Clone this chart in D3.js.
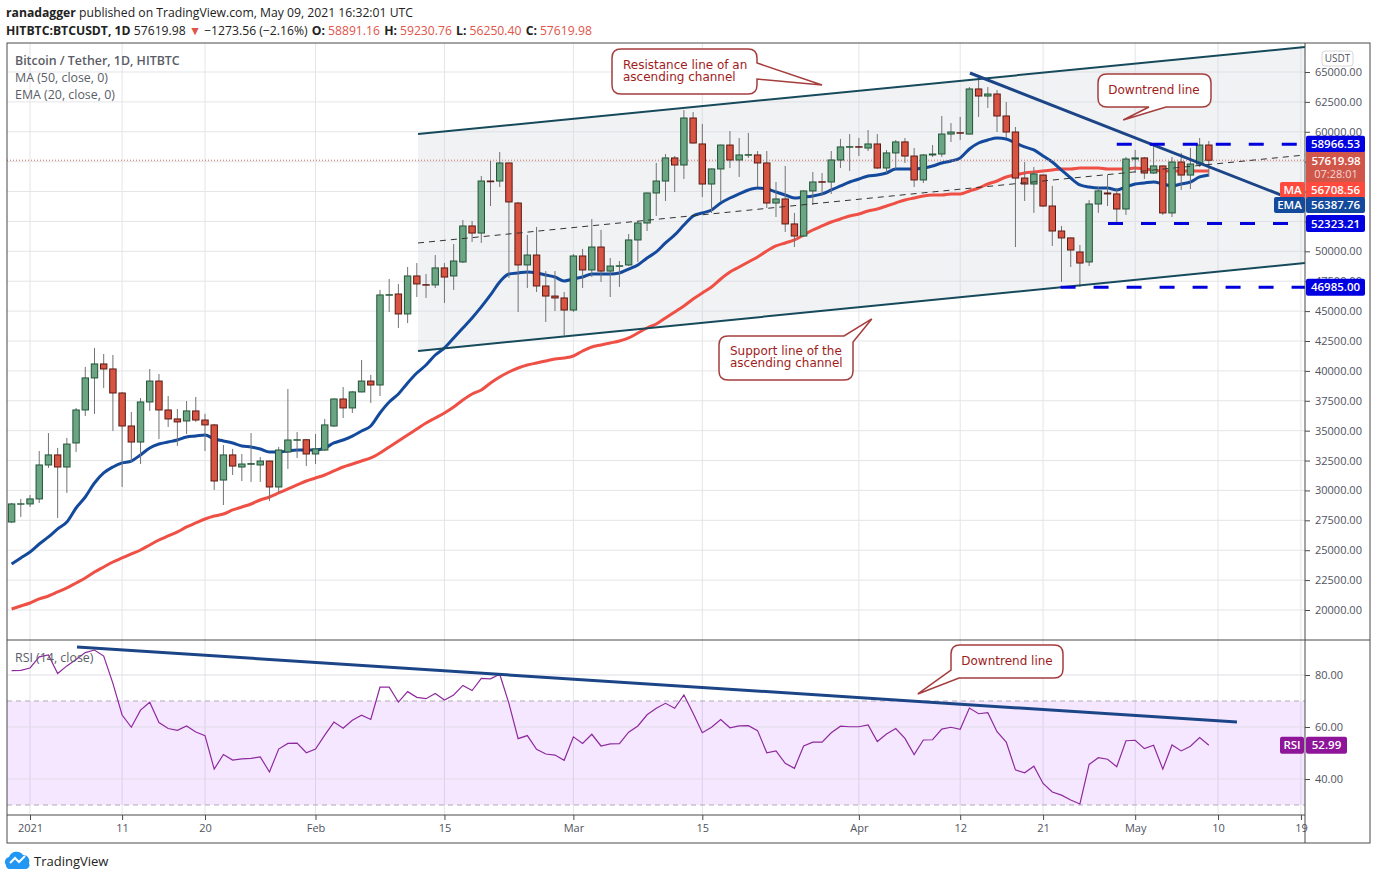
<!DOCTYPE html>
<html>
<head>
<meta charset="utf-8">
<script src="https://cdn.jsdelivr.net/npm/d3@7"></script>
<style>
  html, body { margin: 0; padding: 0; background: #fff; }
  svg { display: block; font-family: "Open Sans", sans-serif; }
</style>
</head>
<body>
<svg id="chart" width="1376" height="880"></svg>
<script>
// daily candles, first one is 30 Dec 2020, last one is 9 May 2021
const opens = [
  27360,28850,28870,29290,32130,32970,31960,33970,36730,39410,
  40580,40160,38150,35390,34050,37400,39150,36730,35980,35810,
  36650,35890,35480,30870,32970,31960,32190,32130,32460,30290,
  33220,34200,34240,33050,33380,35390,37650,36900,38240,39150,
  38820,46330,46430,44760,47940,47210,47190,48610,47940,49110,
  52120,51530,55880,55880,57390,54040,48860,49690,47100,46260,
  46100,45090,49610,48440,50360,48350,48750,48860,50950,52370,
  54880,55880,57810,57220,61150,58980,55630,56890,58890,57640,
  58040,58060,57390,54040,54380,52290,51280,55050,55820,55800,
  57640,58710,58750,58640,58980,56970,58230,59150,57970,55970,
  58060,58140,59810,59920,59810,63580,62990,63160,61320,59980,
  56130,55630,56380,53790,51700,51120,49945,49110,53960,54880,
  54800,53540,57720,57810,56550,57140,53210,57470,56380,57300,58891.16];
const highs = [
  28950,29290,29620,33300,34800,33550,34390,36900,40330,41920,
  41410,41330,38240,36560,37730,40160,39740,37900,36810,37480,
  37820,36400,35560,33800,33470,33050,34800,32800,32480,33640,
  38480,34890,34300,34720,35980,37700,38650,38320,40910,39660,
  46770,47690,47270,48690,49020,48100,49690,49020,50610,52620,
  52540,56300,57560,58310,57420,54130,51370,52040,48350,48350,
  46600,49780,50200,52700,51790,49440,49190,51450,52540,54900,
  57390,58140,57970,61820,61650,60650,56920,58920,60060,59480,
  59900,58390,58390,55800,57140,53210,55100,56640,56550,58390,
  59400,59810,59480,60150,59810,58480,59310,59480,58640,58140,
  58890,61320,60730,61240,63740,64750,63740,63490,62490,60400,
  57470,57050,56430,55470,52120,51150,50530,54290,55380,56380,
  55300,57890,58480,57890,59060,57190,57890,58230,58640,59480,59230.76];
const lows = [
  27280,27780,28620,28950,31880,27700,29790,33220,36230,36400,
  38570,34970,30290,32380,32210,36650,34300,35310,33720,34720,
  35730,33300,30040,28780,31290,30790,30710,30710,29120,29790,
  31800,32710,32040,32210,33300,35310,36060,36480,38200,37320,
  37900,44930,43590,44000,46180,46100,46930,45680,46770,49020,
  50780,50700,53790,55380,47770,44930,46930,46600,44090,45010,
  42960,44930,46930,47850,47440,46180,47020,48770,49110,51700,
  52960,54210,54960,56050,59020,54540,53210,54130,56970,56220,
  57810,55380,53620,52870,51620,50360,51200,53880,54630,54800,
  56970,56720,57970,58390,56890,56550,56890,57390,55380,55720,
  57890,57890,59150,59310,59770,61240,61990,59980,59480,50360,
  54210,53210,53710,50450,47440,48690,47020,48770,53210,53790,
  52290,53040,56550,56050,56470,53040,52870,55130,55210,57050,56250.40];
const closes = [
  28870,28880,29290,32130,32970,31960,33880,36730,39410,40580,
  40160,38150,35390,34050,37400,39150,36730,35980,35730,36650,
  35890,35480,30790,32970,32040,32210,32240,32460,30290,33380,
  34220,34240,33050,33470,35480,37650,36900,38240,39150,38820,
  46350,46370,44760,47940,47270,47170,48610,47850,49190,52120,
  51530,55880,55820,57390,54130,48860,49690,47100,46260,46100,
  45090,49610,48440,50360,48350,48770,48790,50950,52370,54880,
  55880,57810,57220,61150,59060,55630,56890,58890,57640,58060,
  58080,57390,54040,54380,52290,51280,55050,55800,55780,57640,
  58730,58750,58710,58980,56970,58230,59150,57970,55970,58060,
  58140,59810,59980,59880,63580,62990,63160,61320,59980,56130,
  55630,56470,53790,51700,51120,50110,49020,53960,55050,54800,
  53540,57720,57810,56550,57140,53210,57470,56380,57300,58890,57619.98];
const ema20 = [
  23850,24350,24850,25520,26110,26780,27360,28530,29450,30620,
  31460,31960,32300,32460,32970,33550,33880,34050,34220,34470,
  34550,34640,34300,34140,33970,33720,33640,33470,33220,33220,
  33300,33380,33380,33380,33550,33970,34220,34550,34970,35390,
  36480,37400,38070,38990,39820,40490,41330,41920,42750,43590,
  44430,45350,46350,47440,48100,48190,48270,48190,48020,47850,
  47520,47690,47850,48100,48100,48100,48190,48520,48860,49440,
  49950,50700,51370,52200,52960,53210,53460,54040,54460,54800,
  55130,55300,55210,54960,54710,54460,54540,54630,54800,55130,
  55470,55800,56050,56300,56380,56550,56890,56890,56890,56970,
  57140,57390,57560,57810,58560,59060,59310,59480,59400,59060,
  58730,58480,57970,57470,56800,56130,55550,55380,55300,55300,
  55130,55380,55630,55720,55800,55630,55470,55630,55800,56220,56387.76];
const ma50 = [
  20085,20337,20587,20922,21172,21508,21842,22260,22678,23180,
  23598,24016,24351,24687,25020,25438,25856,26191,26526,26944,
  27278,27612,27862,28030,28366,28616,28867,29202,29453,29787,
  30122,30457,30791,31042,31293,31628,31962,32213,32464,32715,
  33133,33635,34137,34639,35141,35642,36060,36479,36981,37566,
  38070,38402,38988,39490,39908,40243,40493,40661,40828,40995,
  41079,41246,41664,42000,42166,42333,42500,42752,43170,43588,
  43922,44425,44927,45430,46013,46515,47017,47687,48272,48690,
  49110,49527,50030,50447,50700,50950,51367,51785,52120,52454,
  52705,52956,53123,53374,53541,53792,54043,54294,54461,54628,
  54712,54712,54796,54796,55047,55298,55632,55883,56218,56385,
  56552,56636,56720,56803,56887,56887,56970,56970,56970,56887,
  56887,56887,56970,56887,56803,56720,56720,56720,56720,56720,56708.56];
const rsi = [
  81.7,81.8,82.7,87,87.7,80.6,83.5,86,88.6,89.6,
  87.3,76.8,64.6,59.9,66.5,69.5,61.7,59.4,58.7,60.4,
  58.1,56.7,43.8,49.4,47.3,47.7,47.9,48.5,42.7,51.5,
  53.7,53.8,50.1,51.5,56.9,61.9,59.5,62.6,64.5,62.9,
  75.3,75.3,69.6,73.6,71.4,70.9,72.9,70.4,72.3,76,
  74,78.7,78.5,80.3,69.1,55.5,56.7,51.4,49.6,49.2,
  47.2,56.2,53.7,57.2,52.7,53.5,53.6,58,60.4,64.7,
  67.2,69.1,67.2,72.3,65.3,57.8,59.9,62.9,59.7,60.4,
  60.5,58.6,50.1,50.8,46,44.1,52.7,54.2,54.2,57.8,
  60.3,60.1,60.1,60.8,54.4,57.3,59.4,55.6,49.4,55,
  55.1,59.2,59.9,59.1,67.3,65.1,65.5,58.2,54.2,43.5,
  42.4,44.9,38.3,35,33.8,31.9,30.4,45.6,48.2,47.6,
  44.7,54.7,54.9,51.7,53,43.8,53.1,50.8,52.6,55.9,52.99];

// axis ticks
const timeTickBars = [2, 12, 21, 33, 47, 61, 75, 92, 103, 112, 122, 131, 140];
const timeTickLabels = ["2021", "11", "20", "Feb", "15", "Mar", "15", "Apr", "12", "21", "May", "10", "19"];
const priceTicks = d3.range(20000, 65001, 2500);
const coveredPriceTicks = [57500, 55000, 52500]; // sit behind the value chips
const rsiTicks = [80, 60, 40];

// hand drawn lines as [bar, value] pairs
const channelTop = [[44.13, 59814], [140.44, 67091]];
const channelBottom = [[44.13, 41665], [140.44, 49025]];
const channelMiddle = [[44.13, 50698], [140.44, 58058]];
const priceDowntrend = [[104.06, 64916], [137.8, 54720]];
const rsiDowntrend = [[7.1, 90.77], [133.05, 61.9]];
const levels = [[120, 58966.53], [119.05, 52323.21], [113.9, 46985.00]];

// ------ layout
const plot = { left: 7, right: 1305, outer: 1370, top: 43, split: 640, axis: 815, bottom: 843 };
const gridColor = "#e4e5e8";
const textColor = "#50535e";
const bars = closes.map((c, i) => i);

const x = d3.scaleLinear().domain([0, 140.44]).range([11.6, plot.right]);
const y = d3.scaleLinear().domain([17490, 67425]).range([plot.split, plot.top]);
const yRsi = d3.scaleLinear().domain([26.15, 93.46]).range([plot.axis, plot.split]);

const svg = d3.select("#chart");
svg.append("defs").append("clipPath").attr("id", "priceClip").append("rect")
  .attr("x", plot.left).attr("y", plot.top).attr("width", plot.right - plot.left).attr("height", plot.split - plot.top);

// header
const head = svg.append("g").attr("font-size", 12.2).attr("fill", "#222");
const line1 = head.append("text").attr("x", 6).attr("y", 17);
line1.append("tspan").attr("font-weight", 700).text("ranadagger");
line1.append("tspan").text(" published on TradingView.com, May 09, 2021 16:32:01 UTC");
const line2 = head.append("text").attr("x", 6).attr("y", 35);
line2.append("tspan").attr("font-weight", 700).text("HITBTC:BTCUSDT, 1D");
line2.append("tspan").text(" 57619.98 ");
line2.append("tspan").attr("fill", "#e0544a").text("▼");
line2.append("tspan").text(" −1273.56 (−2.16%) ");
[["O:", "58891.16"], ["H:", "59230.76"], ["L:", "56250.40"], ["C:", "57619.98"]].forEach(d => {
  line2.append("tspan").attr("font-weight", 700).attr("dx", 1).text(d[0]);
  line2.append("tspan").attr("fill", "#e0544a").attr("dx", 3).text(d[1] + " ");
});

// grid
const grid = svg.append("g").attr("stroke", gridColor).attr("stroke-width", 1);
grid.selectAll(".gx").data(timeTickBars).join("line")
  .attr("x1", d => x(d)).attr("x2", d => x(d)).attr("y1", plot.top).attr("y2", plot.axis);
grid.selectAll(".gy").data(priceTicks).join("line")
  .attr("x1", plot.left).attr("x2", plot.right).attr("y1", d => y(d)).attr("y2", d => y(d));

// channel fill
const lineP = d3.line().x(d => x(d[0])).y(d => y(d[1]));
const lineR = d3.line().x(d => x(d[0])).y(d => yRsi(d[1]));
svg.append("path").attr("fill", "#d1d4dc").attr("fill-opacity", 0.3)
  .attr("d", lineP(channelTop.concat(channelBottom.slice().reverse())) + "Z");

// moving averages go under the candles
const maLine = d3.line().x((d, i) => x(i)).y(d => y(d)).curve(d3.curveMonotoneX);
svg.append("path").attr("fill", "none").attr("stroke", "#ef5045").attr("stroke-width", 3).attr("d", maLine(ma50));
svg.append("path").attr("fill", "none").attr("stroke", "#134a9c").attr("stroke-width", 3).attr("d", maLine(ema20));

// last price line
svg.append("line").attr("x1", plot.left).attr("x2", plot.right)
  .attr("y1", y(closes[130])).attr("y2", y(closes[130]))
  .attr("stroke", "#d6665a").attr("stroke-width", 1).attr("stroke-dasharray", "1 2");

// candles
const isUp = i => closes[i] >= opens[i];
const candles = svg.append("g").selectAll("g").data(bars).join("g");
candles.append("line")
  .attr("x1", d => x(d)).attr("x2", d => x(d))
  .attr("y1", d => y(highs[d])).attr("y2", d => y(lows[d]))
  .attr("stroke", "#737375").attr("stroke-width", 1);
candles.append("rect")
  .attr("x", d => x(d) - 3.2).attr("width", 6.4)
  .attr("y", d => y(Math.max(opens[d], closes[d])))
  .attr("height", d => Math.abs(y(opens[d]) - y(closes[d])))
  .attr("fill", d => isUp(d) ? "#6ba583" : "#d75442")
  .attr("stroke", d => isUp(d) ? "#225437" : "#5b1a13").attr("stroke-width", 1);

// drawings on the price pane
const drawn = svg.append("g").attr("clip-path", "url(#priceClip)").attr("fill", "none");
[channelTop, channelBottom].forEach(d => drawn.append("path").attr("stroke", "#164a5b").attr("stroke-width", 2).attr("d", lineP(d)));
drawn.append("path").attr("stroke", "#333").attr("stroke-width", 1).attr("stroke-dasharray", "6 5").attr("d", lineP(channelMiddle));
drawn.append("path").attr("stroke", "#1c4587").attr("stroke-width", 3).attr("d", lineP(priceDowntrend));
levels.forEach(d => drawn.append("line")
  .attr("x1", x(d[0])).attr("x2", plot.right).attr("y1", y(d[1])).attr("y2", y(d[1]))
  .attr("stroke", "#0000dd").attr("stroke-width", 3).attr("stroke-dasharray", "15 18"));

// rsi pane
svg.append("rect").attr("x", plot.left).attr("width", plot.right - plot.left)
  .attr("y", yRsi(70)).attr("height", yRsi(30) - yRsi(70)).attr("fill", "#9915ff").attr("fill-opacity", 0.1);
svg.append("g").selectAll("line").data(rsiTicks).join("line")
  .attr("x1", plot.left).attr("x2", plot.right).attr("y1", d => yRsi(d)).attr("y2", d => yRsi(d))
  .attr("stroke", "#e0dde6");
svg.append("g").selectAll("line").data([70, 30]).join("line")
  .attr("x1", plot.left).attr("x2", plot.right).attr("y1", d => yRsi(d)).attr("y2", d => yRsi(d))
  .attr("stroke", "#b3a9b8").attr("stroke-dasharray", "5 4");
svg.append("path").attr("fill", "none").attr("stroke", "#8e2a9e").attr("stroke-width", 1.2)
  .attr("d", d3.line().x((d, i) => x(i)).y(d => yRsi(d))(rsi));
svg.append("path").attr("fill", "none").attr("stroke", "#1c4587").attr("stroke-width", 3).attr("d", lineR(rsiDowntrend));

// frame
const frame = svg.append("g").attr("stroke", "#4a4a4a").attr("fill", "none");
frame.append("rect").attr("x", plot.left).attr("y", plot.top).attr("width", plot.outer - plot.left).attr("height", plot.bottom - plot.top);
frame.append("line").attr("x1", plot.left).attr("x2", plot.outer).attr("y1", plot.split).attr("y2", plot.split);
frame.append("line").attr("x1", plot.left).attr("x2", plot.right).attr("y1", plot.axis).attr("y2", plot.axis);
frame.append("line").attr("x1", plot.right).attr("x2", plot.right).attr("y1", plot.top).attr("y2", plot.bottom);

// axes
function styleAxis(g) {
  g.select(".domain").remove();
  g.selectAll("line").attr("stroke", "#4a4a4a");
  g.selectAll("text").attr("fill", textColor).attr("font-size", 11).attr("font-family", '"Open Sans", sans-serif');
}
const priceLabel = d => coveredPriceTicks.includes(d) ? "" : d3.format(".2f")(d);
svg.append("g").attr("transform", `translate(${plot.right},0)`)
  .call(d3.axisRight(y).tickValues(priceTicks).tickFormat(priceLabel).tickSize(5).tickPadding(5))
  .call(styleAxis);
svg.append("g").attr("transform", `translate(${plot.right},0)`)
  .call(d3.axisRight(yRsi).tickValues(rsiTicks).tickFormat(d3.format(".2f")).tickSize(5).tickPadding(5))
  .call(styleAxis);
svg.append("g").attr("transform", `translate(0,${plot.axis})`)
  .call(d3.axisBottom(x).tickValues(timeTickBars).tickFormat((d, i) => timeTickLabels[i]).tickSize(5).tickPadding(4))
  .call(styleAxis);

// USDT chip
svg.append("rect").attr("x", 1322).attr("y", 51).attr("width", 31).attr("height", 15).attr("rx", 3)
  .attr("fill", "#fff").attr("stroke", "#d8d8d8");
svg.append("text").attr("x", 1337.5).attr("y", 62).attr("text-anchor", "middle")
  .attr("font-size", 10).attr("fill", textColor).text("USDT");

// value chips on the price scale
function chip(left, width, cy, h, color, label, round) {
  svg.append("rect").attr("x", left).attr("y", cy - h / 2).attr("width", width).attr("height", h)
    .attr("rx", round).attr("fill", color);
  if (label) svg.append("text").attr("x", left + width / 2).attr("y", cy + 4).attr("text-anchor", "middle")
    .attr("font-size", 11.5).attr("font-weight", 600).attr("fill", "#fff").text(label);
}
levels.forEach(d => chip(1306, 59, y(d[1]), 17, "#0000e0", d3.format(".2f")(d[1]), 2));
chip(1306, 59, 167, 30, "#d0564a", null, 0);
svg.append("text").attr("x", 1336).attr("y", y(closes[130]) + 5).attr("text-anchor", "middle")
  .attr("font-size", 11.5).attr("font-weight", 600).attr("fill", "#fff").text(d3.format(".2f")(closes[130]));
svg.append("text").attr("x", 1336).attr("y", 178).attr("text-anchor", "middle")
  .attr("font-size", 11).attr("fill", "#f3d9d5").text("07:28:01");
chip(1306, 59, 190, 16, "#ff4a3d", d3.format(".2f")(ma50[130]), 0);
chip(1280, 25, 190, 16, "#ff4a3d", "MA", 2);
chip(1306, 59, 205, 16, "#134a9c", d3.format(".2f")(ema20[130]), 2);
chip(1274, 31, 205, 16, "#134a9c", "EMA", 2);
chip(1306, 41, yRsi(rsi[130]), 17, "#8e1599", d3.format(".2f")(rsi[130]), 2);
chip(1280, 24, yRsi(rsi[130]), 17, "#8e1599", "RSI", 2);

// legends
const legend = svg.append("g").attr("font-size", 12.4).attr("fill", "#5a5d66");
legend.append("text").attr("x", 15).attr("y", 65).attr("font-weight", 600).text("Bitcoin / Tether, 1D, HITBTC");
legend.append("text").attr("x", 15).attr("y", 82).text("MA (50, close, 0)");
legend.append("text").attr("x", 15).attr("y", 99).text("EMA (20, close, 0)");
legend.append("text").attr("x", 15).attr("y", 662).text("RSI (14, close)");

// callouts: box in pixels, tip on the data scales
const calloutColor = "#a53d3d";
function callout(b, tip, edge, a1, a2, lines, tx, firstY) {
  const r = 9, R = b.x + b.w, B = b.y + b.h;
  const t = `L${tip[0]},${tip[1]}`;
  let d = `M${b.x + r},${b.y}`;
  if (edge === "tr") d += `H${a1}${t}L${R},${a2}`;
  else d += `H${R - r}Q${R},${b.y} ${R},${b.y + r}`;
  if (edge === "right") d += `V${a1}${t}L${R},${a2}`;
  d += `V${B - r}Q${R},${B} ${R - r},${B}`;
  if (edge === "bottom") d += `H${a2}${t}L${a1},${B}`;
  if (edge === "bl") d += `H${a1}${t}L${b.x},${a2}`;
  else d += `H${b.x + r}Q${b.x},${B} ${b.x},${B - r}`;
  d += `V${b.y + r}Q${b.x},${b.y} ${b.x + r},${b.y}Z`;
  svg.append("path").attr("d", d).attr("fill", "#fff").attr("stroke", calloutColor).attr("stroke-width", 1.5);
  lines.forEach((l, i) => svg.append("text").attr("x", tx).attr("y", firstY + i * 12)
    .attr("font-family", '"DejaVu Sans", sans-serif').attr("font-size", 12).attr("fill", "#a01c1c")
    .attr("text-anchor", lines.length === 1 ? "middle" : "start").text(l));
}
callout({ x: 612, y: 49, w: 145, h: 45 }, [x(88), y(63913)], "right", 63, 79,
  ["Resistance line of an", "ascending channel"], 623, 69);
callout({ x: 1098, y: 74, w: 113, h: 33 }, [x(120.7), y(60985)], "bottom", 1149, 1166,
  ["Downtrend line"], 1154, 94);
callout({ x: 719, y: 336, w: 134, h: 44 }, [x(93.4), y(44341)], "tr", 844, 342,
  ["Support line of the", "ascending channel"], 730, 355);
callout({ x: 951, y: 645, w: 112, h: 33 }, [x(98.4), yRsi(72.7)], "bl", 959, 670,
  ["Downtrend line"], 1007, 665);

// TradingView logo
const logo = svg.append("g");
logo.append("path").attr("fill", "#2196f3")
  .attr("d", "M6,865a5,5 0 0 1 3,-8a8,8 0 0 1 14,-2a6,6 0 0 1 6,8a4,4 0 0 1 -3,6h-17a4,4 0 0 1 -3,-4z");
logo.append("path").attr("fill", "none").attr("stroke", "#fff").attr("stroke-width", 2)
  .attr("d", "M10,863l5,-5l4,4l6,-6");
logo.append("text").attr("x", 34).attr("y", 866).attr("font-size", 13).attr("fill", "#222").text("TradingView");
</script>
</body>
</html>
